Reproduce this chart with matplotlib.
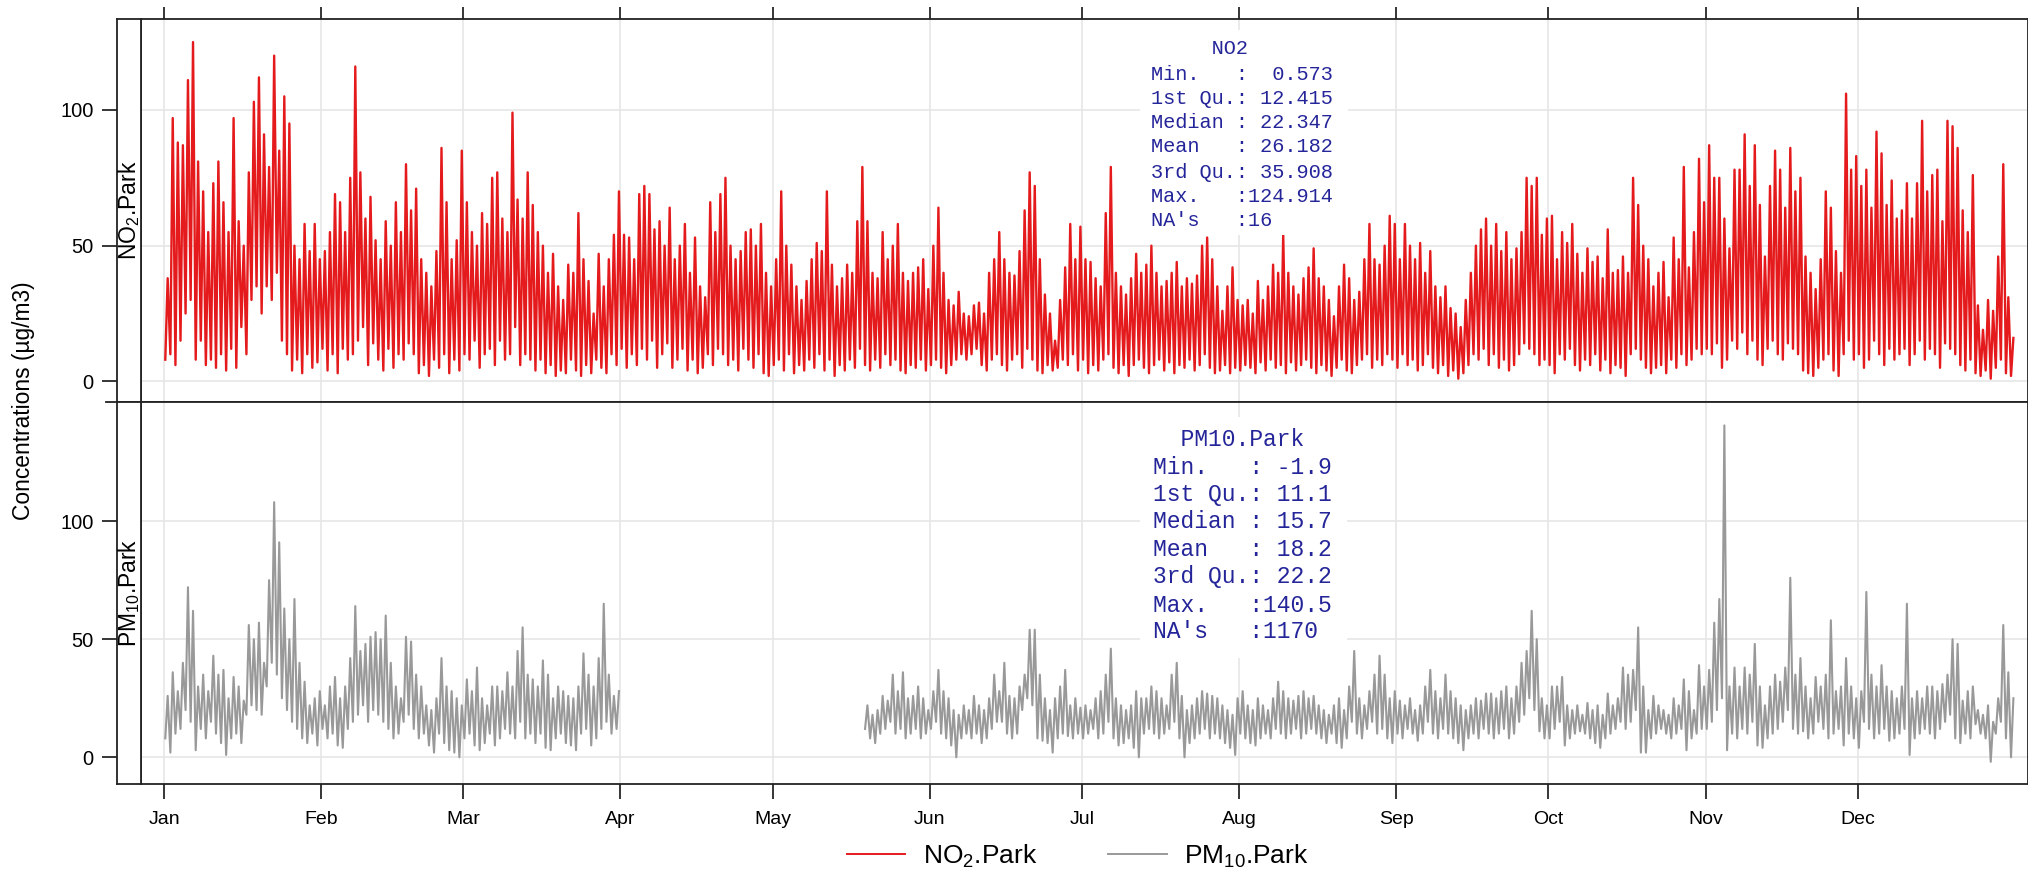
import numpy as np
import matplotlib
matplotlib.use('Agg')
import matplotlib.pyplot as plt
from matplotlib.lines import Line2D
from matplotlib.patches import Rectangle

plt.rcParams['font.family'] = ['Liberation Sans', 'DejaVu Sans']
plt.rcParams['mathtext.fontset'] = 'custom'
plt.rcParams['mathtext.rm'] = 'Liberation Sans'
plt.rcParams['mathtext.it'] = 'Liberation Sans:italic'

nan = float('nan')

months = ['Jan', 'Feb', 'Mar', 'Apr', 'May', 'Jun',
          'Jul', 'Aug', 'Sep', 'Oct', 'Nov', 'Dec']
month_days = [31, 28, 31, 30, 31, 30, 31, 31, 30, 31, 30, 31]

# daily high / low of the hourly series (ug/m3)
no2_high = [
    38, 97, 88, 87, 111, 125, 81, 70, 55, 73, 81, 66, 55, 97, 59, 50, 77, 103, 112, 91, 79, 120, 85, 105, 95, 50, 45, 58, 48, 58, 45,
    48, 55, 69, 66, 55, 75, 116, 77, 60, 68, 52, 45, 59, 50, 66, 55, 80, 63, 71, 45, 40, 35, 48, 86, 66, 45, 52, 85,
    66, 55, 50, 62, 58, 75, 77, 60, 55, 99, 67, 60, 77, 65, 55, 50, 40, 47, 35, 30, 43, 40, 62, 45, 37, 25, 47, 35, 45, 54, 70,
    54, 53, 45, 69, 72, 69, 56, 59, 50, 64, 45, 50, 58, 40, 53, 35, 31, 66, 55, 69, 75, 50, 45, 48, 55, 56, 50, 58, 40, 35,
    45, 70, 50, 43, 35, 30, 37, 45, 51, 48, 70, 43, 35, 38, 43, 40, 59, 79, 59, 40, 38, 55, 45, 50, 58, 40, 37, 40, 42, 45, 34,
    50, 64, 40, 30, 28, 33, 25, 24, 28, 29, 25, 40, 45, 55, 45, 40, 39, 48, 63, 77, 72, 45, 32, 25, 15, 30, 42, 58, 45, 57,
    45, 44, 38, 35, 62, 79, 40, 35, 32, 38, 47, 40, 43, 50, 40, 35, 37, 40, 44, 35, 38, 36, 39, 50, 53, 45, 35, 26, 35, 42, 30,
    28, 30, 25, 37, 30, 35, 43, 40, 54, 40, 35, 32, 38, 42, 49, 38, 35, 30, 24, 35, 43, 38, 30, 33, 45, 58, 45, 43, 50, 61, 58,
    45, 58, 50, 45, 51, 40, 48, 35, 31, 35, 27, 25, 20, 30, 40, 50, 56, 60, 50, 58, 48, 55, 45, 49, 55, 75, 72, 75, 54, 60,
    61, 45, 55, 51, 58, 47, 40, 49, 44, 46, 38, 56, 40, 41, 46, 40, 75, 65, 50, 45, 35, 40, 44, 31, 53, 45, 79, 42, 55, 82, 66,
    87, 75, 75, 60, 49, 78, 78, 91, 72, 87, 65, 46, 72, 85, 78, 64, 86, 70, 75, 46, 40, 34, 45, 70, 64, 48, 40, 106, 78, 83,
    72, 78, 64, 92, 84, 65, 74, 60, 63, 73, 60, 73, 96, 70, 76, 78, 59, 96, 94, 86, 63, 55, 76, 28, 19, 30, 26, 46, 80, 31, 16,
]
no2_low = [
    8, 10, 6, 15, 25, 30, 8, 15, 6, 8, 5, 10, 4, 12, 5, 20, 10, 30, 35, 25, 35, 30, 40, 15, 10, 4, 8, 3, 10, 5, 7,
    12, 4, 10, 3, 12, 8, 10, 15, 20, 6, 14, 8, 4, 12, 5, 10, 8, 14, 10, 3, 6, 2, 8, 5, 10, 3, 8, 4,
    10, 8, 15, 5, 10, 12, 6, 15, 8, 10, 20, 6, 10, 8, 4, 8, 3, 6, 2, 4, 3, 8, 4, 2, 6, 3, 8, 5, 3, 10, 6,
    12, 5, 10, 6, 12, 8, 15, 5, 10, 14, 5, 8, 12, 4, 8, 3, 5, 10, 6, 12, 10, 6, 8, 4, 12, 8, 5, 10, 3, 2,
    6, 8, 4, 10, 3, 6, 4, 8, 5, 10, 4, 8, 2, 6, 4, 8, 5, 12, 6, 4, 8, 5, 10, 6, 8, 4, 3, 6, 5, 8, 4,
    6, 8, 5, 3, 6, 8, 10, 8, 10, 12, 6, 4, 8, 10, 6, 4, 8, 10, 5, 12, 8, 4, 3, 6, 4, 5, 8, 6, 10, 4,
    8, 3, 6, 4, 8, 10, 5, 3, 6, 2, 6, 8, 5, 3, 6, 8, 4, 7, 3, 6, 5, 8, 4, 6, 10, 5, 3, 4, 6, 3, 5,
    4, 6, 5, 3, 7, 4, 8, 5, 6, 3, 7, 4, 6, 8, 5, 3, 6, 4, 2, 5, 8, 4, 3, 6, 8, 10, 5, 8, 6, 10, 8,
    5, 10, 6, 8, 4, 6, 10, 5, 3, 6, 2, 4, 1, 3, 6, 10, 8, 12, 6, 10, 5, 8, 4, 6, 10, 14, 12, 10, 6, 8,
    6, 3, 10, 8, 12, 6, 4, 8, 6, 10, 4, 8, 3, 6, 5, 2, 10, 12, 8, 5, 3, 5, 6, 3, 8, 5, 10, 6, 8, 12, 10,
    12, 10, 14, 5, 8, 15, 12, 18, 10, 15, 8, 6, 12, 15, 10, 8, 14, 12, 10, 4, 3, 2, 5, 8, 10, 4, 2, 10, 15, 8,
    10, 5, 8, 15, 10, 6, 12, 8, 10, 12, 6, 10, 15, 8, 12, 10, 5, 14, 12, 10, 6, 4, 8, 3, 2, 4, 1, 5, 8, 3, 2,
]
# PM10 has no data from 1 Apr to 18 May
pm10_high = [
    26, 36, 28, 40, 72, 62, 30, 35, 28, 43, 35, 37, 25, 34, 30, 24, 56, 50, 57, 40, 75, 108, 91, 63, 50, 67, 40, 32, 22, 25, 28,
    22, 30, 34, 25, 30, 42, 64, 45, 48, 51, 53, 50, 60, 40, 30, 25, 51, 49, 35, 30, 22, 20, 25, 42, 30, 28, 25, 22,
    33, 28, 38, 25, 22, 30, 30, 28, 36, 30, 45, 55, 35, 33, 30, 41, 35, 25, 30, 28, 26, 25, 30, 44, 35, 30, 42, 65, 35, 26, 28,
] + [nan] * 48 + [
    22, 18, 20, 26, 24, 35, 28, 36, 25, 26, 30, 25, 20,
    28, 37, 28, 25, 20, 18, 22, 20, 26, 22, 20, 25, 35, 28, 40, 26, 25, 30, 35, 54, 54, 35, 25, 20, 25, 30, 37, 22, 25, 21,
    22, 20, 25, 28, 35, 46, 25, 22, 20, 22, 28, 25, 25, 30, 28, 25, 22, 35, 40, 26, 20, 22, 25, 28, 27, 26, 25, 22, 20, 18, 25,
    28, 22, 20, 25, 22, 20, 25, 32, 28, 25, 24, 26, 28, 25, 26, 22, 20, 18, 22, 25, 20, 30, 45, 25, 22, 28, 35, 43, 35, 25, 28,
    24, 22, 25, 20, 22, 30, 37, 28, 25, 35, 28, 25, 22, 20, 22, 25, 24, 27, 27, 25, 28, 30, 25, 30, 40, 45, 62, 50, 25, 22,
    30, 30, 34, 22, 20, 22, 18, 23, 20, 22, 18, 27, 22, 25, 38, 35, 37, 55, 30, 20, 26, 22, 20, 18, 25, 22, 33, 28, 20, 39, 30,
    37, 57, 67, 140.5, 30, 38, 30, 38, 35, 48, 30, 22, 30, 35, 32, 38, 76, 35, 42, 30, 25, 34, 30, 35, 58, 28, 30, 42, 30, 25,
    28, 70, 35, 30, 39, 30, 28, 25, 30, 65, 25, 28, 25, 30, 30, 28, 31, 35, 50, 48, 24, 28, 30, 20, 18, 22, 15, 25, 56, 36, 25,
]
pm10_low = [
    8, 2, 10, 12, 20, 15, 3, 12, 8, 15, 10, 6, 1, 8, 10, 6, 18, 22, 20, 18, 30, 40, 35, 25, 20, 15, 12, 8, 6, 10, 5,
    12, 8, 10, 5, 4, 12, 15, 18, 22, 15, 20, 18, 15, 12, 8, 10, 15, 18, 12, 8, 10, 5, 2, 10, 6, 3, 2, 0,
    8, 10, 5, 3, 6, 10, 5, 8, 12, 10, 8, 15, 8, 10, 6, 10, 4, 3, 8, 10, 6, 5, 3, 10, 12, 5, 8, 12, 15, 10, 12,
] + [nan] * 48 + [
    12, 8, 6, 10, 12, 15, 10, 12, 8, 10, 12, 8, 10,
    12, 15, 10, 8, 5, 0, 8, 10, 8, 10, 6, 8, 12, 15, 15, 10, 8, 10, 20, 25, 22, 8, 7, 6, 2, 8, 10, 9, 8, 10,
    8, 10, 12, 8, 10, 15, 8, 5, 6, 8, 4, 0, 10, 12, 10, 8, 10, 12, 15, 8, 0, 6, 8, 10, 12, 8, 10, 8, 6, 4, 1,
    10, 8, 6, 5, 8, 10, 8, 12, 10, 8, 10, 12, 8, 10, 12, 10, 8, 6, 10, 6, 4, 8, 15, 10, 8, 12, 15, 10, 12, 8, 6,
    10, 8, 12, 10, 7, 10, 15, 10, 8, 12, 10, 8, 6, 3, 8, 10, 8, 12, 10, 8, 10, 12, 8, 10, 15, 18, 25, 20, 11, 8,
    8, 12, 15, 5, 8, 10, 11, 10, 8, 6, 4, 8, 10, 12, 15, 12, 15, 20, 2, 2, 8, 10, 12, 10, 8, 10, 12, 3, 8, 10, 12,
    12, 15, 20, 25, 3, 10, 8, 12, 10, 15, 5, 4, 8, 10, 12, 15, 20, 12, 10, 11, 8, 10, 15, 12, 8, 10, 12, 5, 10, 8,
    4, 15, 12, 8, 10, 12, 7, 8, 10, 12, 1, 8, 10, 12, 10, 8, 12, 15, 18, 8, 6, 10, 8, 14, 10, 8, -1.9, 10, 15, 8, 0,
]

series_names = ['NO$_2$.Park', 'PM$_{10}$.Park']
series_colors = ['#e41a1c', '#999999']
series_widths = [1.7, 1.5]

no2_summary = ['     NO2', 'Min.   :  0.573', '1st Qu.: 12.415', 'Median : 22.347',
               'Mean   : 26.182', '3rd Qu.: 35.908', 'Max.   :124.914', "NA's   :16"]
pm10_summary = ['  PM10.Park', 'Min.   : -1.9', '1st Qu.: 11.1', 'Median : 15.7',
                'Mean   : 18.2', '3rd Qu.: 22.2', 'Max.   :140.5', "NA's   :1170"]

for s in (no2_high, no2_low, pm10_high, pm10_low):
    assert len(s) == 365, len(s)

W, H = 2028, 877


def fx(px):
    return px / W


def fy(py):
    return 1 - py / H


def zigzag(low, high):
    days = np.arange(len(low))
    x = np.empty(2 * len(low))
    y = np.empty(2 * len(low))
    x[0::2] = days + 0.25
    x[1::2] = days + 0.72
    y[0::2] = low
    y[1::2] = high
    return x, y


def main():
    fig = plt.figure(figsize=(W / 100, H / 100), dpi=100)
    month_starts = np.concatenate([[0], np.cumsum(month_days)[:-1]])

    panels = [
        (19, 402, (-7.6, 133.5), no2_low, no2_high, 0),
        (402, 784, (-11.3, 150.4), pm10_low, pm10_high, 1),
    ]
    for top, bottom, ylim, low, high, i in panels:
        ax = fig.add_axes([fx(141), fy(bottom), fx(2028 - 141), (bottom - top) / H])
        strip = fig.add_axes([fx(117), fy(bottom), fx(24), (bottom - top) / H], sharey=ax)

        x, y = zigzag(low, high)
        ax.plot(x, y, color=series_colors[i], lw=series_widths[i], zorder=2)

        ax.set_xlim(-4.54, 367.6)
        ax.set_ylim(*ylim)
        ax.set_xticks(month_starts)
        ax.set_yticks([0, 50, 100])
        ax.grid(True, color='#e6e6e6', lw=1.2)
        ax.set_axisbelow(True)
        ax.tick_params(axis='y', left=False, labelleft=False)
        if i == 0:
            ax.tick_params(axis='x', bottom=False, labelbottom=False, top=True,
                           direction='out', length=9, width=1.1)
        else:
            ax.set_xticklabels(months)
            ax.tick_params(axis='x', direction='out', length=11, width=1.1,
                           labelsize=14, pad=8.5)
        for sp in ax.spines.values():
            sp.set_linewidth(1.3)
            sp.set_color('#222222')

        strip.set_xticks([])
        strip.tick_params(axis='y', direction='out', length=11, width=1.1,
                          labelsize=14.5, pad=6)
        for sp in strip.spines.values():
            sp.set_linewidth(1.3)
            sp.set_color('#222222')
        strip.text(0.5, 0.5, series_names[i], rotation=90, ha='center', va='center',
                   fontsize=16.5, transform=strip.transAxes)

    # divider stub left of the strip
    fig.add_artist(Line2D([fx(106), fx(117)], [fy(402), fy(402)], color='#222222', lw=1.3))

    # summary boxes
    boxes = [
        (no2_summary, (1140, 30, 1348, 235), 1151, [49, 74, 98, 123, 147, 172, 196.5, 221], 14.6),
        (pm10_summary, (1140, 417, 1347, 658), 1153, [439, 467, 495, 522, 549.5, 577, 605, 632], 16.6),
    ]
    for lines, (x0, y0, x1, y1), tx, ys, fs in boxes:
        fig.add_artist(Rectangle((fx(x0), fy(y1)), (x1 - x0) / W, (y1 - y0) / H,
                                 transform=fig.transFigure, facecolor='white',
                                 edgecolor='none', zorder=5))
        for line, py in zip(lines, ys):
            fig.text(fx(tx), fy(py), line, family='Liberation Mono', fontsize=fs,
                     color='#25259a', ha='left', va='center', zorder=6)

    fig.text(fx(24), fy(401), 'Concentrations (\u00b5g/m3)', rotation=90,
             ha='center', va='center', fontsize=16.4)

    handles = [Line2D([], [], color=c, lw=1.4) for c in series_colors]
    fig.legend(handles, series_names, loc='center', bbox_to_anchor=(fx(1078), fy(856)),
               ncol=2, frameon=False, fontsize=19, handlelength=2.2,
               handletextpad=0.68, columnspacing=2.7)

    fig.savefig('out.png', dpi=100)


if __name__ == '__main__':
    main()
